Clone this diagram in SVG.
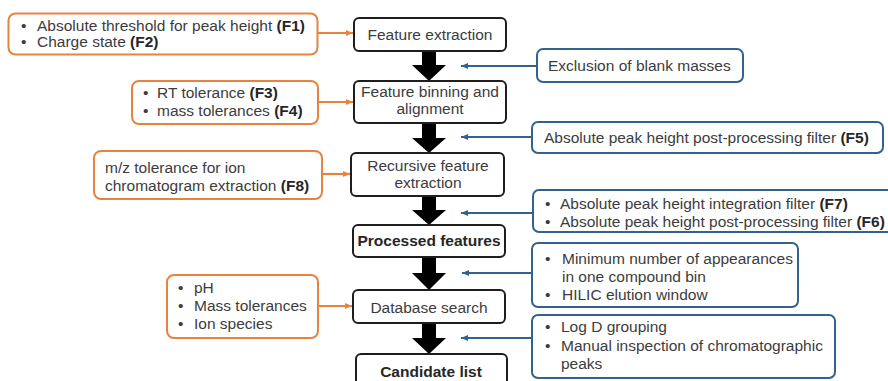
<svg xmlns="http://www.w3.org/2000/svg" width="888" height="381" viewBox="0 0 888 381">
<defs>
<style>
.t{font-family:"Liberation Sans",Arial,sans-serif;font-size:15.5px;fill:#3c3c3c}
.b{font-weight:bold;fill:#262626}
.c{text-anchor:middle}
.main rect{fill:#fff;stroke:#1e1e1e;stroke-width:2}
.org rect{fill:#fff;stroke:#E6843F;stroke-width:2}
.blu rect{fill:#fff;stroke:#33628F;stroke-width:2}
.ol{stroke:#E6843F;stroke-width:2.2;fill:none}
.bl{stroke:#33628F;stroke-width:2.2;fill:none}
.ba{fill:#000}
</style>
<marker id="mo" markerUnits="userSpaceOnUse" markerWidth="8" markerHeight="8" refX="7" refY="4" orient="auto">
<path d="M0,1 L7,4 L0,7 Z" fill="#E6843F"/>
</marker>
<marker id="mb" markerUnits="userSpaceOnUse" markerWidth="8" markerHeight="8" refX="7" refY="4" orient="auto">
<path d="M0,1 L7,4 L0,7 Z" fill="#33628F"/>
</marker>
</defs>
<rect width="888" height="381" fill="#fff"/>

<g id="connectors">
<polygon class="ba" points="422,51 436,51 436,65 446,65 429,81 412,65 422,65"/>
<polygon class="ba" points="422,123 436,123 436,138 446,138 429,153 412,138 422,138"/>
<polygon class="ba" points="422,196 436,196 436,210 446,210 429,225 412,210 422,210"/>
<polygon class="ba" points="422,257 436,257 436,273 446,273 429,290 412,273 422,273"/>
<polygon class="ba" points="422,323 436,323 436,338 446,338 429,354 412,338 422,338"/>
<line class="ol" x1="318" y1="33" x2="353" y2="33" marker-end="url(#mo)"/>
<line class="ol" x1="318" y1="102" x2="353" y2="102" marker-end="url(#mo)"/>
<line class="ol" x1="322" y1="174" x2="350" y2="174" marker-end="url(#mo)"/>
<line class="ol" x1="318" y1="306" x2="352" y2="306" marker-end="url(#mo)"/>
<line class="bl" x1="537" y1="66" x2="461" y2="66" marker-end="url(#mb)"/>
<line class="bl" x1="532" y1="137" x2="461" y2="137" marker-end="url(#mb)"/>
<line class="bl" x1="532" y1="213" x2="461" y2="213" marker-end="url(#mb)"/>
<line class="bl" x1="532" y1="273" x2="462" y2="273" marker-end="url(#mb)"/>
<line class="bl" x1="532" y1="338" x2="461" y2="338" marker-end="url(#mb)"/>
</g>

<g id="p-f1f2" class="org">
<rect x="8.5" y="13.5" width="309" height="41" rx="7"/>
<text class="t" x="21" y="30.5">•</text>
<text class="t" x="37" y="30.5">Absolute threshold for peak height <tspan class="b">(F1)</tspan></text>
<text class="t" x="21" y="46.5">•</text>
<text class="t" x="37" y="46.5">Charge state <tspan class="b">(F2)</tspan></text>
</g>

<g id="p-f3f4" class="org">
<rect x="132" y="81" width="186" height="43" rx="7"/>
<text class="t" x="143" y="97.5">•</text>
<text class="t" x="157" y="97.5">RT tolerance <tspan class="b">(F3)</tspan></text>
<text class="t" x="143" y="115.5">•</text>
<text class="t" x="157" y="115.5">mass tolerances <tspan class="b">(F4)</tspan></text>
</g>

<g id="p-f8" class="org">
<rect x="94" y="151" width="228" height="48" rx="7"/>
<text class="t" x="105" y="173">m/z tolerance for ion</text>
<text class="t" x="105" y="191">chromatogram extraction <tspan class="b">(F8)</tspan></text>
</g>

<g id="p-db" class="org">
<rect x="167" y="275" width="151" height="63" rx="7"/>
<text class="t" x="178" y="293">•</text>
<text class="t" x="194" y="293">pH</text>
<text class="t" x="178" y="311">•</text>
<text class="t" x="194" y="311">Mass tolerances</text>
<text class="t" x="178" y="329">•</text>
<text class="t" x="194" y="329">Ion species</text>
</g>

<g id="n-fe" class="main">
<rect x="354" y="18" width="152" height="33" rx="5"/>
<text class="t c" x="430" y="40">Feature extraction</text>
</g>
<g id="n-fba" class="main">
<rect x="354" y="81" width="152" height="42" rx="5"/>
<text class="t c" x="430" y="97">Feature binning and</text>
<text class="t c" x="430" y="114">alignment</text>
</g>
<g id="n-rfe" class="main">
<rect x="351" y="153" width="153" height="43" rx="5"/>
<text class="t c" x="428" y="171">Recursive feature</text>
<text class="t c" x="428" y="188">extraction</text>
</g>
<g id="n-pf" class="main">
<rect x="353" y="225" width="152" height="32" rx="5"/>
<text class="t c b" x="429" y="246">Processed features</text>
</g>
<g id="n-ds" class="main">
<rect x="353" y="290" width="152" height="33" rx="5"/>
<text class="t c" x="429" y="313">Database search</text>
</g>
<g id="n-cl" class="main">
<rect x="356" y="354" width="151" height="40" rx="5"/>
<text class="t c b" x="431" y="377">Candidate list</text>
</g>

<g id="q-excl" class="blu">
<rect x="537" y="49" width="206" height="33" rx="6"/>
<text class="t" x="548" y="71">Exclusion of blank masses</text>
</g>
<g id="q-f5" class="blu">
<rect x="532" y="122" width="351" height="31" rx="6"/>
<text class="t" x="544" y="143">Absolute peak height post-processing filter <tspan class="b">(F5)</tspan></text>
</g>
<g id="q-f7f6" class="blu">
<rect x="533" y="190" width="362" height="42" rx="6"/>
<text class="t" x="545" y="209">•</text>
<text class="t" x="560" y="209">Absolute peak height integration filter <tspan class="b">(F7)</tspan></text>
<text class="t" x="545" y="227">•</text>
<text class="t" x="560" y="227">Absolute peak height post-processing filter <tspan class="b">(F6)</tspan></text>
</g>
<g id="q-min" class="blu">
<rect x="532" y="243" width="266" height="64" rx="6"/>
<text class="t" x="545" y="264">•</text>
<text class="t" x="562" y="264">Minimum number of appearances</text>
<text class="t" x="562" y="282">in one compound bin</text>
<text class="t" x="545" y="300">•</text>
<text class="t" x="562" y="300">HILIC elution window</text>
</g>
<g id="q-logd" class="blu">
<rect x="532" y="315" width="303" height="63" rx="6"/>
<text class="t" x="545" y="332">•</text>
<text class="t" x="561" y="332">Log D grouping</text>
<text class="t" x="545" y="351">•</text>
<text class="t" x="561" y="351">Manual inspection of chromatographic</text>
<text class="t" x="561" y="369">peaks</text>
</g>
</svg>
